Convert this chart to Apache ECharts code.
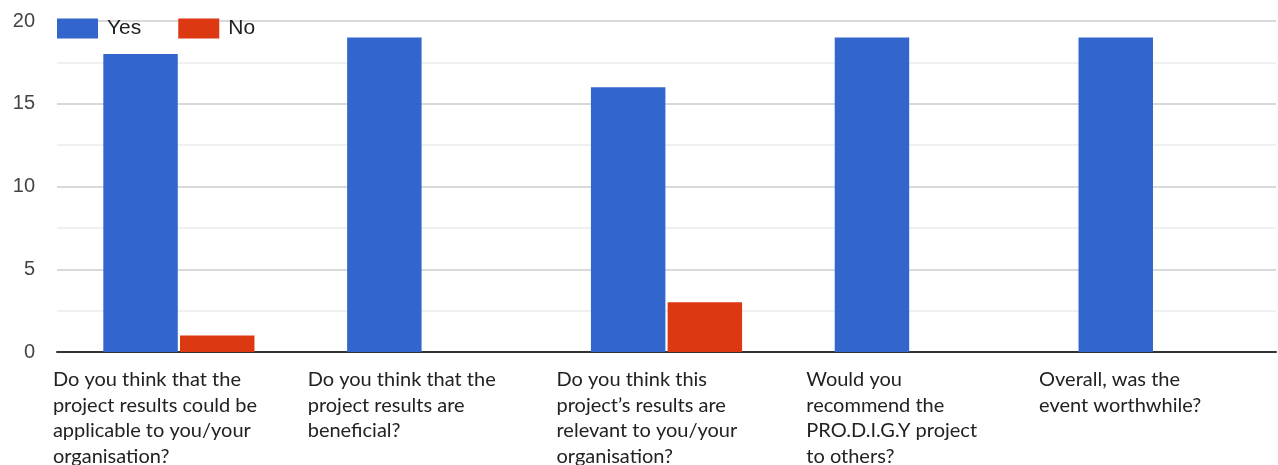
<!DOCTYPE html>
<html>
<head>
<meta charset="utf-8">
<script src="https://cdn.jsdelivr.net/npm/echarts@6/dist/echarts.min.js"></script>
<style>
html,body{margin:0;padding:0;background:#fff;}
#chart{width:1278px;height:465px;}
</style>
</head>
<body>
<div id="chart"></div>
<script>
const categories = [
  "Do you think that the\nproject results could be\napplicable to you/your\norganisation?",
  "Do you think that the\nproject results are\nbeneficial?",
  "Do you think this\nproject\u2019s results are\nrelevant to you/your\norganisation?",
  "Would you\nrecommend the\nPRO.D.I.G.Y project\nto others?",
  "Overall, was the\nevent worthwhile?"
];
const yesValues = [18, 19, 16, 19, 19];
const noValues = [1, 0, 3, 0, 0];
const yTicks = [0, 5, 10, 15, 20];

// label box widths per category (controls left edge of left-aligned text)
const labelBoxWidths = [252, 230, 220, 208, 230];
const rich = {};
labelBoxWidths.forEach(function (w, i) {
  rich['a' + i] = {width: w, align: 'left', fontFamily: 'Lato, "Open Sans", sans-serif', fontSize: 20, lineHeight: 25.5, color: '#222'};
});

const chart = echarts.init(document.getElementById('chart'), null, {renderer: 'canvas'});
chart.setOption({
  animation: false,
  color: ['#3366cc', '#dc3912'],
  legend: {
    left: 57, top: 18, padding: 0,
    itemWidth: 41, itemHeight: 20, itemGap: 37,
    icon: 'rect',
    textStyle: {fontFamily: 'Arial, "Liberation Sans", sans-serif', fontSize: 21, color: '#222', padding: [2,0,0,4]},
    data: ['Yes', 'No']
  },
  grid: {left: 57, right: 2, top: 21, bottom: 113, containLabel: false, outerBoundsMode: 'none'},
  xAxis: {
    type: 'category',
    data: categories,
    axisLine: {show: true, lineStyle: {color: '#333', width: 2}},
    axisTick: {show: false},
    axisLabel: {
      interval: 0,
      margin: 15,
      verticalAlign: 'top',
      formatter: function (v, idx) {
        return v.split('\n').map(function (l) { return '{a' + idx + '|' + l + '}'; }).join('\n');
      },
      rich: rich
    }
  },
  yAxis: {
    type: 'value',
    min: yTicks[0], max: yTicks[yTicks.length - 1], interval: 5,
    axisLine: {show: false},
    axisTick: {show: false},
    axisLabel: {margin: 22, fontFamily: 'Arial, "Liberation Sans", sans-serif', fontSize: 20, color: '#444'},
    splitLine: {lineStyle: {color: '#cccccc', width: 1.5}},
    minorTick: {show: false, splitNumber: 2},
    minorSplitLine: {show: true, lineStyle: {color: '#ebebeb', width: 1.5}}
  },
  series: [
    {name: 'Yes', type: 'bar', data: yesValues, barCategoryGap: '38%', barGap: '3%'},
    {name: 'No', type: 'bar', data: noValues}
  ]
});
</script>
</body>
</html>
